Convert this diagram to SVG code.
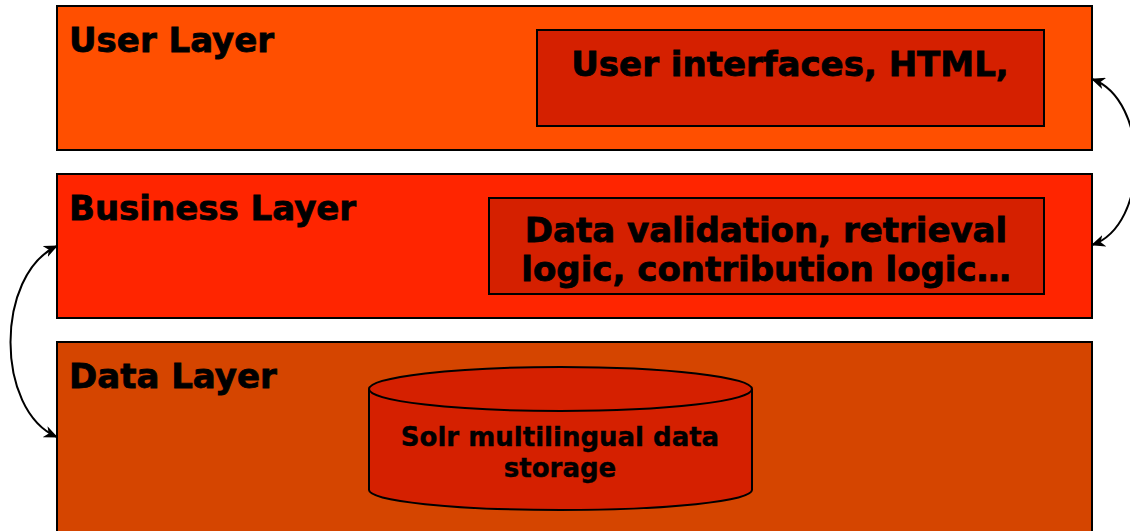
<svg xmlns="http://www.w3.org/2000/svg" width="1130" height="531" viewBox="0 0 1130 531">
<style>
.layer{stroke:#000;stroke-width:2}
.inner{fill:#D52000;stroke:#000;stroke-width:2}
.t{font-family:"DejaVu Sans","Verdana",sans-serif;font-weight:bold;fill:#000;stroke:#000;stroke-width:0.8}
.s{stroke-width:0.4}
.conn{fill:none;stroke:#000;stroke-width:2}
</style>
<defs>
<marker id="ah" viewBox="0 0 14 12" refX="13" refY="6" markerWidth="14" markerHeight="12" markerUnits="userSpaceOnUse" orient="auto-start-reverse">
<path d="M0,0 L14,6 L0,12 L4,6 Z" fill="#000"/>
</marker>
</defs>
<rect width="1130" height="531" fill="#fff"/>
<g id="user-layer">
<rect class="layer" x="57" y="6" width="1035" height="144" fill="#FF4F00"/>
<text class="t" x="69" y="52" font-size="34">User Layer</text>
</g>
<g id="user-box">
<rect class="inner" x="537" y="30" width="507" height="96"/>
<text class="t" x="790" y="76" font-size="34" text-anchor="middle">User interfaces, HTML,</text>
</g>
<g id="business-layer">
<rect class="layer" x="57" y="174" width="1035" height="144" fill="#FF2500"/>
<text class="t" x="69" y="220" font-size="34">Business Layer</text>
</g>
<g id="business-box">
<rect class="inner" x="489" y="198" width="555" height="96"/>
<text class="t" x="766" y="242" font-size="34" text-anchor="middle">Data validation, retrieval</text>
<text class="t" x="766" y="281" font-size="34" text-anchor="middle">logic, contribution logic…</text>
</g>
<g id="data-layer">
<rect class="layer" x="57" y="342" width="1035" height="200" fill="#D54500"/>
<text class="t" x="69" y="388" font-size="34">Data Layer</text>
</g>
<g id="solr-storage">
<path class="inner" d="M369,389 L369,490 A191.5,20 0 0 0 752,490 L752,389 A191.5,22 0 0 0 369,389 Z"/>
<path class="inner" d="M369,389 A191.5,22 0 0 0 752,389"/>
<text class="t s" x="560" y="446" font-size="26" text-anchor="middle">Solr multilingual data</text>
<text class="t s" x="560" y="477" font-size="26" text-anchor="middle">storage</text>
</g>
<g id="connectors">
<path class="conn" d="M1092,79 C1150,100 1150,225 1092,245" marker-start="url(#ah)" marker-end="url(#ah)"/>
<path class="conn" d="M57,246 C-5,275 -5,410 57,437" marker-start="url(#ah)" marker-end="url(#ah)"/>
</g>
</svg>
